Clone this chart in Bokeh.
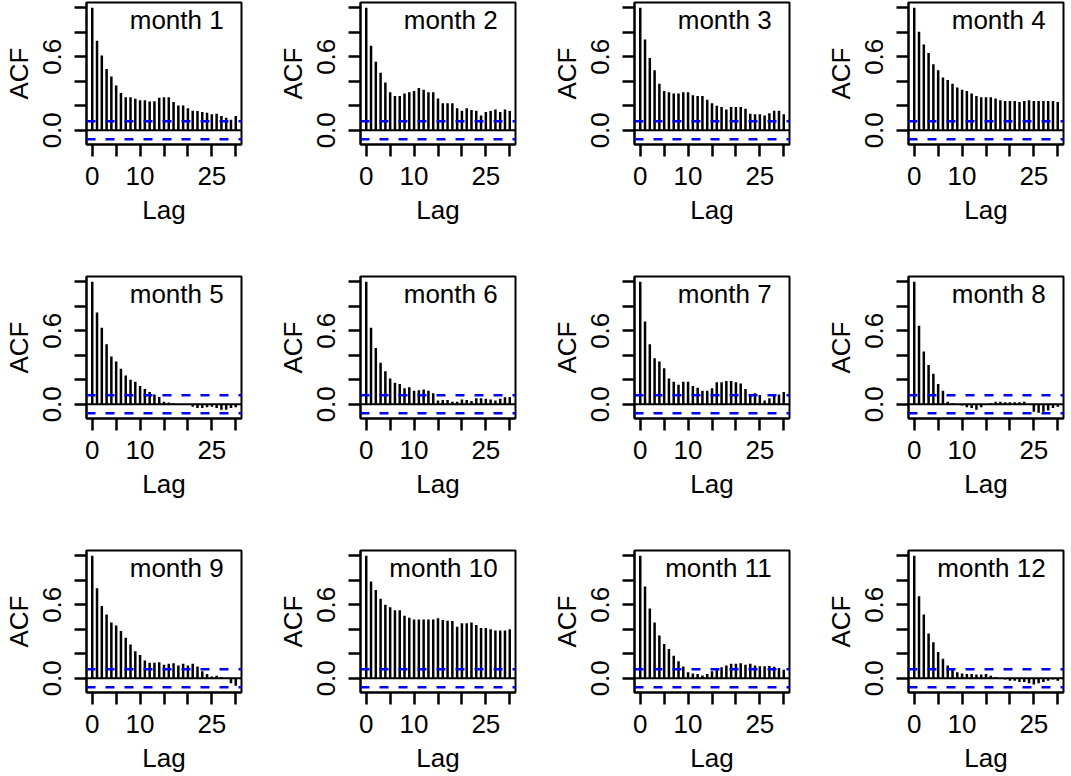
from bokeh.plotting import figure
from bokeh.models import Range1d, Span, Label, FixedTicker
from bokeh.layouts import gridplot
from bokeh.embed import file_html
from bokeh.resources import INLINE

# ---- data ----
lags = list(range(0, 31))
clim = 0.073  # confidence bound (dashed blue lines)

acf_m1 = [1.0, 0.73, 0.61, 0.50, 0.44, 0.365, 0.305, 0.27, 0.27, 0.257, 0.246, 0.246, 0.235, 0.238, 0.265, 0.27,
          0.27, 0.23, 0.203, 0.203, 0.18, 0.16, 0.157, 0.15, 0.143, 0.13, 0.135, 0.116, 0.103, 0.086, 0.116]
acf_m2 = [1.0, 0.69, 0.56, 0.47, 0.39, 0.31, 0.28, 0.28, 0.30, 0.31, 0.32, 0.345, 0.33, 0.31, 0.31, 0.26,
          0.22, 0.22, 0.22, 0.18, 0.16, 0.18, 0.165, 0.16, 0.12, 0.15, 0.157, 0.17, 0.15, 0.17, 0.157]
acf_m3 = [1.0, 0.74, 0.59, 0.49, 0.38, 0.32, 0.31, 0.30, 0.30, 0.31, 0.31, 0.285, 0.28, 0.28, 0.25, 0.22,
          0.20, 0.19, 0.17, 0.19, 0.19, 0.19, 0.175, 0.135, 0.13, 0.13, 0.12, 0.14, 0.16, 0.16, 0.13]
acf_m4 = [1.0, 0.805, 0.70, 0.63, 0.54, 0.49, 0.43, 0.41, 0.38, 0.35, 0.33, 0.32, 0.30, 0.28, 0.27, 0.27,
          0.27, 0.26, 0.245, 0.24, 0.24, 0.24, 0.23, 0.24, 0.245, 0.24, 0.24, 0.24, 0.24, 0.24, 0.23]
acf_m5 = [1.0, 0.75, 0.625, 0.49, 0.39, 0.35, 0.29, 0.235, 0.20, 0.185, 0.15, 0.125, 0.10, 0.08, 0.06, 0.02,
          0.015, 0.008, 0.003, 0.0, -0.005, -0.02, -0.03, -0.03, -0.025, -0.02, -0.03, -0.045, -0.045, -0.03, -0.025]
acf_m6 = [1.0, 0.625, 0.46, 0.34, 0.27, 0.21, 0.175, 0.165, 0.13, 0.14, 0.11, 0.115, 0.12, 0.11, 0.09, 0.03,
          0.035, 0.035, 0.02, 0.02, 0.04, 0.035, 0.027, 0.05, 0.05, 0.045, 0.04, 0.03, 0.045, 0.057, 0.06]
acf_m7 = [1.0, 0.675, 0.49, 0.375, 0.35, 0.295, 0.21, 0.185, 0.16, 0.185, 0.185, 0.15, 0.135, 0.11, 0.11, 0.13,
          0.18, 0.18, 0.19, 0.19, 0.18, 0.17, 0.125, 0.085, 0.09, 0.075, 0.03, 0.05, 0.07, 0.08, 0.10]
acf_m8 = [1.0, 0.64, 0.43, 0.32, 0.25, 0.165, 0.11, 0.02, 0.008, 0.0, -0.01, -0.025, -0.03, -0.045, -0.025, 0.0,
          0.008, 0.02, 0.02, 0.016, 0.016, 0.016, 0.016, 0.02, 0.0, -0.06, -0.07, -0.06, -0.05, -0.03, -0.02]
acf_m9 = [1.0, 0.735, 0.59, 0.52, 0.455, 0.43, 0.385, 0.33, 0.275, 0.22, 0.19, 0.145, 0.126, 0.126, 0.13, 0.11,
          0.118, 0.123, 0.104, 0.118, 0.104, 0.118, 0.096, 0.057, 0.036, 0.014, 0.02, 0.01, 0.005, -0.04, -0.06]
acf_m10 = [1.0, 0.79, 0.72, 0.65, 0.60, 0.58, 0.555, 0.555, 0.51, 0.495, 0.48, 0.48, 0.48, 0.48, 0.48, 0.49,
           0.475, 0.47, 0.467, 0.42, 0.45, 0.45, 0.455, 0.435, 0.41, 0.41, 0.40, 0.39, 0.39, 0.39, 0.40]
acf_m11 = [1.0, 0.75, 0.57, 0.455, 0.35, 0.28, 0.24, 0.185, 0.14, 0.096, 0.05, 0.04, 0.036, 0.022, 0.036, 0.057,
           0.068, 0.09, 0.104, 0.118, 0.118, 0.123, 0.11, 0.118, 0.104, 0.099, 0.099, 0.10, 0.095, 0.085, 0.07]
acf_m12 = [1.0, 0.67, 0.52, 0.365, 0.295, 0.214, 0.16, 0.104, 0.068, 0.05, 0.04, 0.036, 0.036, 0.03, 0.03, 0.036,
           0.02, 0.01, 0.0, -0.01, -0.02, -0.02, -0.03, -0.03, -0.04, -0.05, -0.04, -0.03, -0.02, -0.01, -0.02]

series = [acf_m1, acf_m2, acf_m3, acf_m4, acf_m5, acf_m6,
          acf_m7, acf_m8, acf_m9, acf_m10, acf_m11, acf_m12]
titles = ["month %d" % (i + 1) for i in range(12)]

x_ticks = [0, 5, 10, 15, 20, 25, 30]
x_tick_labels = {0: "0", 5: "", 10: "10", 15: "", 20: "", 25: "25", 30: ""}
y_ticks = [0.0, 0.2, 0.4, 0.6, 0.8, 1.0]
y_tick_labels = {0.0: "0.0", 0.2: "", 0.4: "", 0.6: "0.6", 0.8: "", 1.0: ""}

FONT = "Liberation Sans"
FS = "26px"

col_widths = [274, 274, 274, 249]
row_heights = [274, 274, 228]
FRAME_W = 156
FRAME_H = 142
LEFT = 85
TOP = 2


def make_panel(vals, title, w, h):
    n = len(vals) - 1
    xlo, xhi = -0.04 * n, n + 0.04 * n
    ymin = min(min(vals), -clim)
    ymax = max(max(vals), clim)
    ext = 0.04 * (ymax - ymin)
    p = figure(width=w, height=h,
               x_range=Range1d(xlo, xhi), y_range=Range1d(ymin - ext, ymax + ext),
               output_backend="svg", toolbar_location=None,
               min_border_left=LEFT, min_border_right=w - LEFT - FRAME_W,
               min_border_top=TOP, min_border_bottom=h - TOP - FRAME_H,
               background_fill_color="white", border_fill_color="white")
    p.xgrid.visible = False
    p.ygrid.visible = False
    p.outline_line_color = "black"
    p.outline_line_width = 2
    p.outline_line_alpha = 1.0

    p.segment(x0=lags, y0=[0] * len(lags), x1=lags, y1=vals,
              line_color="black", line_width=2.5)
    p.add_layout(Span(location=0, dimension="width", line_color="black", line_width=2))
    for loc in (clim, -clim):
        p.add_layout(Span(location=loc, dimension="width", line_color="#0000FF",
                          line_width=2.5, line_dash="9 10"))

    lab = Label(x=xhi - 0.115 * (xhi - xlo), y=0.9, text=title,
                text_align="right", text_baseline="alphabetic",
                text_font=FONT, text_font_size=FS, text_color="black")
    p.add_layout(lab)

    for ax in (p.xaxis[0], p.yaxis[0]):
        ax.axis_line_color = "black"
        ax.axis_line_width = 2
        ax.major_tick_line_color = "black"
        ax.major_tick_line_width = 2.5
        ax.major_tick_out = 12
        ax.major_tick_in = 0
        ax.minor_tick_line_color = None
        ax.major_label_text_font = FONT
        ax.major_label_text_font_size = FS
        ax.major_label_text_color = "black"
        ax.axis_label_text_font = FONT
        ax.axis_label_text_font_size = FS
        ax.axis_label_text_font_style = "normal"
        ax.axis_label_text_color = "black"

    p.xaxis[0].ticker = FixedTicker(ticks=x_ticks)
    p.xaxis[0].major_label_overrides = x_tick_labels
    p.xaxis[0].axis_label = "Lag"
    p.xaxis[0].major_label_standoff = 10
    p.xaxis[0].axis_label_standoff = 7

    p.yaxis[0].ticker = FixedTicker(ticks=y_ticks)
    p.yaxis[0].major_label_overrides = y_tick_labels
    p.yaxis[0].major_label_orientation = "vertical"
    p.yaxis[0].axis_label = "ACF"
    p.yaxis[0].major_label_standoff = 13
    p.yaxis[0].axis_label_standoff = 7
    return p


rows = []
k = 0
for r in range(3):
    row_figs = []
    for c in range(4):
        row_figs.append(make_panel(series[k], titles[k], col_widths[c], row_heights[r]))
        k += 1
    rows.append(row_figs)

grid = gridplot(rows, toolbar_location=None)

open("out.html", "w").write(file_html(grid, INLINE))
